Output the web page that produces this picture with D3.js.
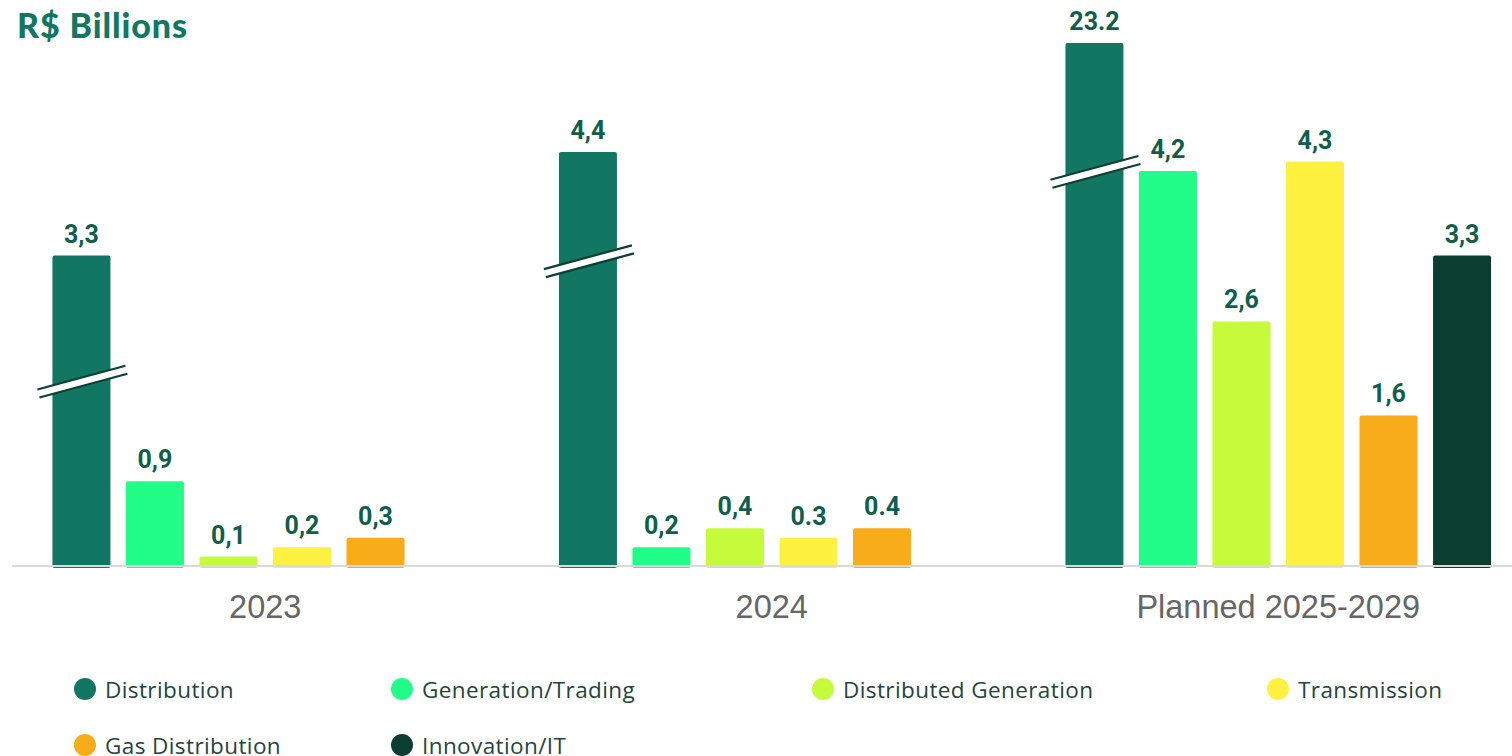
<!DOCTYPE html>
<html>
<head>
<meta charset="utf-8">
<script src="https://cdn.jsdelivr.net/npm/d3@7"></script>
<style>
  html, body { margin: 0; padding: 0; background: #ffffff; }
  svg { display: block; }
</style>
</head>
<body>
<svg id="chart" width="1512" height="756"></svg>
<script>
// ---- data ----
const groups = ["2023", "2024", "Planned 2025-2029"];
const series = ["Distribution", "Generation/Trading", "Distributed Generation", "Transmission", "Gas Distribution", "Innovation/IT"];
const distribution      = [3.3, 4.4, 23.2];
const generationTrading = [0.9, 0.2, 4.2];
const distributedGen    = [0.1, 0.4, 2.6];
const transmission      = [0.2, 0.3, 4.3];
const gasDistribution   = [0.3, 0.4, 1.6];
const innovationIT      = [null, null, 3.3];
const labelsDistribution      = ["3,3", "4,4", "23.2"];
const labelsGenerationTrading = ["0,9", "0,2", "4,2"];
const labelsDistributedGen    = ["0,1", "0,4", "2,6"];
const labelsTransmission      = ["0,2", "0.3", "4,3"];
const labelsGasDistribution   = ["0,3", "0.4", "1,6"];
const labelsInnovationIT      = [null, null, "3,3"];
// axis-break marks on the Distribution bars (value level where the break is drawn)
const breakLevels = [1.96, 3.24, 4.19];

const colors = ["#127762", "#22fd8a", "#c6fb3c", "#fef13f", "#f9ac19", "#0b3d30"];
const valueSets = [distribution, generationTrading, distributedGen, transmission, gasDistribution, innovationIT];
const labelSets = [labelsDistribution, labelsGenerationTrading, labelsDistributedGen, labelsTransmission, labelsGasDistribution, labelsInnovationIT];

const svg = d3.select("#chart");

const baseY = 566;
const y = d3.scaleLinear().domain([0, 5.56]).range([baseY, 43]).clamp(true);
const x0 = d3.scaleBand().domain(groups).range([12, 1531.5]).padding(0);
const x1 = d3.scaleBand().domain(series).range([0, x0.bandwidth()]).paddingInner(0.211).paddingOuter(0.55);
const color = d3.scaleOrdinal().domain(series).range(colors);

const rows = [];
groups.forEach((g, gi) => {
  series.forEach((s, si) => {
    const v = valueSets[si][gi];
    if (v !== null && v !== undefined) rows.push({ g, gi, s, si, v, label: labelSets[si][gi] });
  });
});

// title
svg.append("text")
  .attr("x", 17).attr("y", 38)
  .attr("font-family", "Lato, 'Open Sans', sans-serif")
  .attr("font-weight", 900).attr("font-size", 34)
  .attr("letter-spacing", 0.9)
  .attr("fill", "#127762")
  .text("R$ Billions");

// bars
const barG = svg.append("g");
barG.selectAll("rect").data(rows).join("rect")
  .attr("x", d => x0(d.g) + x1(d.s))
  .attr("width", x1.bandwidth())
  .attr("y", d => y(d.v))
  .attr("height", d => baseY + 2 - y(d.v))
  .attr("rx", 2).attr("ry", 2)
  .attr("fill", d => color(d.s));

// baseline
svg.append("line")
  .attr("x1", 12).attr("x2", 1512)
  .attr("y1", baseY).attr("y2", baseY)
  .attr("stroke", "#d9d9d9").attr("stroke-width", 2);

// break marks
groups.forEach((g, gi) => {
  const cx = x0(g) + x1("Distribution") + x1.bandwidth() / 2;
  const cy = y(breakLevels[gi]);
  const half = 44, slope = -0.27, gap = 4;
  const xa = cx - half, xb = cx + half;
  const ya = cy + slope * (-half), yb = cy + slope * half;
  svg.append("path")
    .attr("d", `M${xa},${ya - gap}L${xb},${yb - gap}L${xb + 2},${yb + gap}L${xa + 2},${ya + gap}Z`)
    .attr("fill", "#ffffff");
  svg.append("line").attr("x1", xa).attr("y1", ya - gap).attr("x2", xb).attr("y2", yb - gap)
    .attr("stroke", "#0d3f33").attr("stroke-width", 2.2);
  svg.append("line").attr("x1", xa + 2).attr("y1", ya + gap).attr("x2", xb + 2).attr("y2", yb + gap)
    .attr("stroke", "#0d3f33").attr("stroke-width", 2.2);
});

// value labels
svg.append("g").selectAll("text").data(rows).join("text")
  .attr("x", d => x0(d.g) + x1(d.s) + x1.bandwidth() / 2)
  .attr("y", d => y(d.v) - 13)
  .attr("text-anchor", "middle")
  .attr("font-family", "Roboto, 'Liberation Sans', sans-serif")
  .attr("font-weight", 700).attr("font-size", 25)
  .attr("fill", "#0f5e4a")
  .text(d => d.label);

// category labels
svg.append("g").selectAll("text").data(groups).join("text")
  .attr("x", d => x0(d) + x0.bandwidth() / 2)
  .attr("y", 618)
  .attr("text-anchor", "middle")
  .attr("font-family", "'Liberation Sans', Arial, sans-serif")
  .attr("font-size", 32.5)
  .attr("fill", "#666666")
  .text(d => d);

// legend
const legendPos = [[85, 689], [402, 689], [823, 689], [1278, 689], [85, 745], [402, 745]];
const leg = svg.append("g").selectAll("g").data(series).join("g")
  .attr("transform", (d, i) => `translate(${legendPos[i][0]},${legendPos[i][1]})`);
leg.append("circle").attr("r", 11).attr("fill", d => color(d));
leg.append("text")
  .attr("x", 20).attr("y", 9)
  .attr("font-family", "'Open Sans', Lato, sans-serif")
  .attr("font-size", 22.5)
  .attr("letter-spacing", 0.4)
  .attr("fill", "#24453b")
  .text(d => d);
</script>
</body>
</html>
